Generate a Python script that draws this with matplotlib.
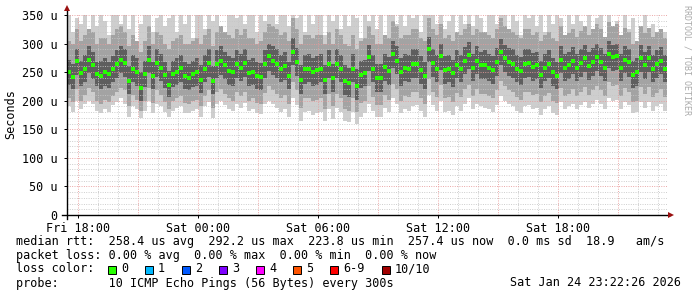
import matplotlib
matplotlib.use('Agg')
import matplotlib.pyplot as plt
import numpy as np
from matplotlib.patches import Rectangle

plt.rcParams.update({
    'font.family': 'DejaVu Sans Mono',
    'font.size': 8.5,
})

# time axis: hours since Fri 00:00, one sample every 12 minutes
t_start = 17.45
step_h = 0.2

# median rtt (us)
med = [250, 242, 270, 249, 256, 272, 262, 247, 244, 250, 246, 255, 264, 272, 266, 234, 256, 250, 222, 246, 272, 244, 266, 258, 245,
       228, 247, 250, 257, 244, 240, 246, 250, 236, 256, 266, 234, 264, 270, 262, 252, 250, 264, 257, 266, 248, 250, 243, 241, 264,
       278, 270, 265, 256, 261, 243, 286, 268, 236, 255, 256, 250, 253, 256, 236, 264, 240, 265, 256, 235, 231, 256, 226, 245, 248,
       276, 256, 240, 240, 259, 252, 282, 270, 250, 258, 256, 265, 265, 253, 244, 291, 266, 256, 278, 253, 256, 248, 263, 256, 270,
       280, 258, 270, 262, 262, 258, 254, 267, 286, 275, 268, 265, 256, 252, 265, 266, 259, 262, 245, 258, 264, 250, 243, 272, 258,
       262, 270, 258, 266, 275, 260, 268, 277, 268, 257, 282, 276, 278, 258, 272, 267, 245, 250, 275, 262, 274, 256, 265, 270, 255]

# smoke: dark band
hi1 = [272, 265, 290, 270, 280, 295, 285, 268, 270, 275, 268, 278, 288, 295, 290, 260, 280, 275, 250, 270, 295, 268, 290, 282, 268,
       252, 270, 275, 280, 268, 265, 270, 275, 262, 280, 290, 260, 288, 295, 285, 278, 275, 288, 282, 290, 272, 275, 268, 266, 288,
       300, 295, 290, 280, 285, 268, 310, 292, 262, 280, 282, 275, 278, 282, 262, 288, 265, 290, 280, 262, 258, 282, 255, 270, 272,
       298, 280, 265, 265, 282, 276, 305, 295, 275, 282, 280, 290, 290, 278, 268, 312, 290, 280, 300, 278, 280, 272, 288, 280, 294,
       302, 282, 295, 286, 288, 282, 278, 292, 308, 298, 292, 290, 280, 276, 290, 290, 284, 286, 270, 282, 288, 275, 268, 296, 282,
       286, 294, 282, 290, 298, 285, 292, 300, 292, 282, 305, 298, 300, 282, 296, 290, 270, 275, 298, 286, 296, 280, 288, 294, 280]
lo1 = [228, 220, 245, 225, 232, 248, 238, 225, 220, 226, 222, 232, 240, 248, 242, 212, 232, 226, 200, 224, 248, 220, 242, 235, 222,
       206, 224, 228, 232, 220, 218, 224, 226, 214, 232, 242, 212, 240, 245, 238, 228, 226, 240, 234, 242, 225, 228, 220, 218, 240,
       252, 245, 240, 232, 236, 220, 262, 244, 212, 230, 232, 226, 228, 232, 212, 240, 216, 240, 232, 210, 206, 232, 202, 222, 225,
       252, 232, 216, 216, 235, 228, 258, 246, 226, 234, 232, 240, 240, 230, 220, 268, 242, 232, 254, 230, 232, 224, 240, 232, 246,
       256, 234, 246, 238, 238, 234, 230, 244, 262, 250, 244, 240, 232, 228, 240, 242, 235, 238, 222, 234, 240, 226, 220, 248, 234,
       238, 246, 234, 242, 250, 236, 244, 252, 244, 234, 258, 252, 254, 234, 248, 242, 222, 226, 250, 238, 250, 232, 240, 246, 232]

# smoke: medium band
hi2 = [305, 300, 325, 305, 315, 325, 320, 300, 310, 310, 300, 315, 325, 330, 320, 295, 315, 305, 285, 305, 330, 300, 320, 315, 300,
       290, 305, 310, 315, 300, 300, 305, 310, 300, 315, 325, 295, 320, 330, 320, 315, 310, 325, 315, 325, 310, 310, 300, 305, 320,
       335, 330, 325, 315, 320, 305, 345, 325, 300, 315, 315, 310, 315, 315, 300, 320, 300, 325, 315, 300, 295, 315, 290, 305, 310,
       330, 315, 300, 300, 315, 310, 340, 330, 310, 315, 315, 325, 325, 310, 305, 345, 325, 315, 335, 310, 315, 305, 320, 315, 325,
       335, 315, 325, 320, 320, 315, 310, 325, 345, 330, 325, 320, 315, 310, 325, 325, 315, 320, 305, 315, 320, 310, 305, 330, 315,
       318, 325, 312, 322, 330, 315, 325, 335, 325, 312, 338, 330, 335, 315, 328, 320, 300, 305, 330, 318, 328, 312, 320, 325, 310]
lo2 = [205, 198, 220, 200, 210, 222, 215, 200, 195, 202, 198, 208, 215, 222, 218, 190, 210, 202, 182, 200, 222, 196, 218, 210, 198,
       186, 200, 205, 208, 196, 195, 200, 202, 190, 208, 218, 188, 215, 220, 212, 204, 200, 215, 208, 216, 200, 204, 196, 195, 214,
       225, 218, 212, 205, 210, 195, 232, 218, 188, 205, 205, 200, 202, 205, 186, 212, 190, 212, 205, 185, 182, 205, 180, 196, 200,
       225, 206, 192, 192, 210, 202, 230, 220, 200, 208, 206, 215, 215, 205, 195, 238, 216, 206, 228, 205, 206, 198, 214, 206, 220,
       228, 208, 220, 212, 212, 208, 205, 218, 235, 225, 218, 215, 206, 202, 215, 216, 210, 212, 198, 208, 214, 200, 196, 222, 208,
       212, 220, 208, 216, 224, 210, 218, 226, 218, 208, 232, 226, 228, 208, 222, 216, 198, 200, 224, 212, 224, 206, 214, 220, 206]

# smoke: full range (min / max ping)
mx = [350, 320, 345, 335, 350, 310, 350, 330, 350, 340, 315, 350, 350, 335, 350, 325, 350, 300, 335, 350, 350, 320, 345, 350, 330,
      345, 350, 320, 350, 335, 350, 310, 350, 350, 325, 350, 340, 350, 330, 315, 350, 350, 345, 350, 335, 350, 350, 320, 350, 340,
      350, 350, 335, 350, 350, 330, 350, 345, 350, 320, 350, 335, 350, 350, 315, 350, 340, 350, 325, 350, 330, 350, 345, 310, 350,
      340, 350, 325, 350, 315, 350, 350, 335, 350, 330, 350, 345, 350, 320, 350, 350, 350, 335, 350, 325, 340, 350, 310, 350, 335,
      350, 330, 350, 345, 320, 350, 350, 335, 350, 350, 325, 350, 340, 315, 350, 345, 350, 330, 350, 320, 350, 335, 350, 345, 315,
      350, 335, 350, 340, 320, 350, 325, 345, 350, 310, 350, 330, 340, 315, 350, 325, 345, 305, 330, 350, 320, 335, 310, 325, 320]
mn = [190, 180, 200, 185, 195, 200, 195, 182, 178, 185, 180, 192, 198, 205, 195, 172, 190, 185, 170, 182, 200, 178, 195, 190, 180,
      172, 182, 188, 190, 178, 178, 182, 185, 172, 190, 198, 170, 195, 200, 192, 185, 182, 195, 188, 196, 182, 185, 178, 176, 195,
      200, 195, 188, 180, 185, 172, 205, 192, 165, 180, 182, 175, 178, 180, 165, 185, 168, 188, 180, 165, 162, 180, 160, 172, 178,
      195, 182, 172, 172, 188, 180, 205, 195, 178, 185, 182, 190, 192, 182, 172, 210, 192, 182, 200, 180, 182, 175, 190, 182, 195,
      205, 185, 195, 190, 188, 185, 180, 192, 208, 200, 195, 190, 182, 178, 190, 192, 185, 188, 175, 185, 190, 178, 175, 198, 185,
      190, 195, 185, 192, 198, 188, 195, 202, 195, 185, 205, 200, 202, 185, 198, 192, 178, 180, 198, 188, 198, 182, 190, 195, 182]

tick_hours = [18, 24, 30, 36, 42]
tick_labels = ['Fri 18:00', 'Sat 00:00', 'Sat 06:00', 'Sat 12:00', 'Sat 18:00']

loss_labels = ['0', '1', '2', '3', '4', '5', '6-9', '10/10']
loss_colors = ['#26ff00', '#00b8ff', '#0059ff', '#7e00ff', '#ff00ff', '#ff5500', '#ff0000', '#a10000']

W, H = 697, 297
fig = plt.figure(figsize=(W / 100, H / 100), dpi=100)
ax = fig.add_axes([67 / W, 82 / H, 600 / W, 200 / H])

n = len(med)
t = t_start + step_h * np.arange(n + 1)


def band(lo, hi, color):
    ax.fill_between(t, lo + [lo[-1]], hi + [hi[-1]], step='post',
                    color=color, linewidth=0, zorder=1)


band(mn, mx, '#cecece')
band(lo2, hi2, '#a3a3a3')
band(lo1, hi1, '#5e5e5e')

ax.plot(t[:-1] + step_h / 2, med, 's', color='#26ff00', ms=2.4, mew=0, zorder=6)

ax.set_xlim(t_start, t_start + step_h * n)
ax.set_ylim(0, 350)

# grid like rrdtool: fine dotted lines, red for major
dot = (0, (1, 1.6))
for h in range(18, 48):
    c = '#e89a9a' if h % 3 == 0 else '#c6c6c6'
    ax.axvline(h, color=c, lw=0.65, ls=dot, zorder=4)
for v in range(10, 351, 10):
    c = '#e89a9a' if v % 50 == 0 else '#c6c6c6'
    ax.axhline(v, color=c, lw=0.65, ls=dot, zorder=4)

for s in ax.spines.values():
    s.set_visible(False)

ax.set_xticks(tick_hours)
ax.set_xticklabels(tick_labels)
ax.set_yticks(range(0, 351, 50))
ax.set_yticklabels(['0'] + [f'{v} u' for v in range(50, 351, 50)])
ax.tick_params(axis='both', length=2, width=0.7, color='black', pad=3, labelsize=8.5)
ax.tick_params(axis='y', pad=5)

# axes with arrows
ax.plot([-5 / 600, 1.005], [0, 0], color='black', lw=1, transform=ax.transAxes, clip_on=False, zorder=7)
ax.plot([0, 0], [-0.02, 1.03], color='black', lw=1, transform=ax.transAxes, clip_on=False, zorder=7)
ax.plot([1.0065], [0], marker='>', color='#9a1010', ms=4, mew=0, transform=ax.transAxes, clip_on=False, zorder=8)
ax.plot([0], [1.035], marker='^', color='#9a1010', ms=4, mew=0, transform=ax.transAxes, clip_on=False, zorder=8)

fig.text(11 / W, 1 - 114 / H, 'Seconds', rotation=90, ha='center', va='center', fontsize=8.5)
fig.text(687 / W, 1 - 60 / H, 'RRDTOOL / TOBI OETIKER', rotation=270, ha='center', va='center',
         fontsize=6, color='#aaaaaa')


def ftxt(x, y, s, **kw):
    fig.text(x / W, 1 - y / H, s, va='center', fontsize=8.5, **kw)


ftxt(16, 241, 'median rtt:  258.4 us avg  292.2 us max  223.8 us min  257.4 us now  0.0 ms sd  18.9   am/s')
ftxt(16, 255, 'packet loss: 0.00 % avg  0.00 % max  0.00 % min  0.00 % now')
ftxt(16, 269, 'loss color:')
sq_x = [108, 145, 182, 219, 256, 293, 330, 382]
for x, lab, col in zip(sq_x, loss_labels, loss_colors):
    fig.patches.append(Rectangle((x / W, 1 - 273.5 / H), 8 / W, 8 / H, transform=fig.transFigure,
                                 facecolor=col, edgecolor='black', lw=0.7))
    ftxt(x + 13, 269, lab)
ftxt(16, 283, 'probe:       10 ICMP Echo Pings (56 Bytes) every 300s')
ftxt(681, 283, 'Sat Jan 24 23:22:26 2026', ha='right')

fig.savefig('out.png', dpi=100)
